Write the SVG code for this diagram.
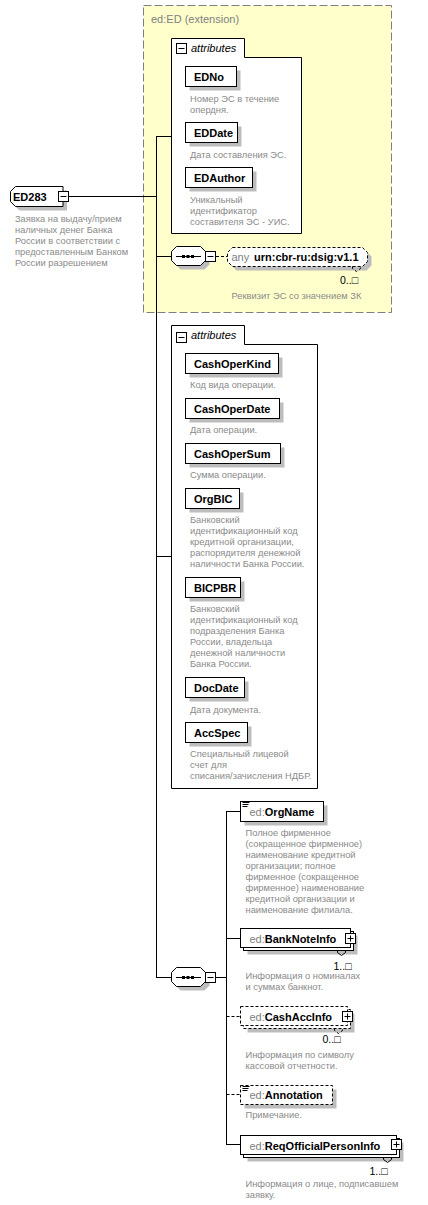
<svg xmlns="http://www.w3.org/2000/svg" width="428" height="1205" viewBox="0 0 428 1205">
  <style>
    text { font-family: "Liberation Sans", Arial, "DejaVu Sans", sans-serif; }
    .name { font-size: 11px; font-weight: bold; fill: #000; }
    .pfx { font-weight: normal; fill: #808080; }
    .desc { font-size: 9.3px; fill: #8a8a8a; }
    .occ { font-size: 10.5px; fill: #000; }
    .box { fill: #fff; stroke: #000; stroke-width: 1; }
    .dbox { fill: #fff; stroke: #000; stroke-width: 1; stroke-dasharray: 3 2; }
    .shadow { fill: #bdbdbd; stroke: none; }
    .ln { stroke: #000; stroke-width: 1; fill: none; }
    .dln { stroke: #000; stroke-width: 1; fill: none; stroke-dasharray: 3 2; }
    .grp { font-size: 11px; font-style: italic; fill: #000; }
  </style>
  <defs>
    <g id="minus">
      <rect x="0.5" y="0.5" width="10" height="10" fill="#fff" stroke="#000"/>
      <line x1="2.5" y1="5.5" x2="8.5" y2="5.5" stroke="#000"/>
    </g>
    <g id="plus">
      <rect x="0.5" y="0.5" width="10" height="10" fill="#fff" stroke="#000"/>
      <line x1="2.5" y1="5.5" x2="8.5" y2="5.5" stroke="#000"/>
      <line x1="5.5" y1="2.5" x2="5.5" y2="8.5" stroke="#000"/>
    </g>
    <g id="simple">
      <line x1="1.5" y1="1.5" x2="8.5" y2="1.5" stroke="#000"/>
      <line x1="1.5" y1="3.5" x2="7.5" y2="3.5" stroke="#000"/>
      <line x1="1.5" y1="5.5" x2="6.5" y2="5.5" stroke="#000"/>
    </g>
    <g id="seq">
      <path d="M9.5,4.5 H33.5 L38.5,9.5 V18.5 L33.5,23.5 H9.5 L4.5,18.5 V9.5 Z" class="shadow"/>
      <path d="M5.5,0.5 H29.5 L34.5,5.5 V14.5 L29.5,19.5 H5.5 L0.5,14.5 V5.5 Z" class="box"/>
      <line x1="5" y1="10.5" x2="30" y2="10.5" stroke="#000"/>
      <rect x="11" y="9" width="3" height="3" fill="#000"/>
      <rect x="15.5" y="9" width="3" height="3" fill="#000"/>
      <rect x="20" y="9" width="3" height="3" fill="#000"/>
    </g>
  </defs>

  <!-- extension of ed:ED -->
  <g id="ext">
    <rect x="143.5" y="5.5" width="248" height="307" fill="#ffffcc" stroke="#808080" stroke-dasharray="8 3"/>
    <text x="151" y="23" font-size="11" fill="#808080">ed:ED (extension)</text>
  </g>

  <!-- connectors -->
  <g id="connectors">
    <line class="ln" x1="68.5" y1="196.5" x2="156.5" y2="196.5"/>
    <line class="ln" x1="156.5" y1="136" x2="156.5" y2="978"/>
    <line class="ln" x1="156.5" y1="136.5" x2="171.5" y2="136.5"/>
    <line class="ln" x1="156.5" y1="256.5" x2="171.5" y2="256.5"/>
    <line class="ln" x1="156.5" y1="556.5" x2="171.5" y2="556.5"/>
    <line class="ln" x1="156.5" y1="977.5" x2="171.5" y2="977.5"/>
    <line class="dln" x1="216" y1="256.5" x2="228" y2="256.5"/>
    <line class="ln" x1="216" y1="977.5" x2="226.5" y2="977.5"/>
    <line class="ln" x1="226.5" y1="811" x2="226.5" y2="1145"/>
    <line class="ln" x1="226.5" y1="811.5" x2="240.5" y2="811.5"/>
    <line class="ln" x1="226.5" y1="938.5" x2="240.5" y2="938.5"/>
    <line class="dln" x1="226.5" y1="1016.5" x2="240.5" y2="1016.5"/>
    <line class="dln" x1="226.5" y1="1094.5" x2="240.5" y2="1094.5"/>
    <line class="ln" x1="226.5" y1="1144.5" x2="240.5" y2="1144.5"/>
  </g>

  <!-- root element -->
  <g id="ED283">
    <path d="M19.5,190.5 H67 V210.5 H19.5 L14.5,205.5 V195.5 Z" class="shadow"/>
    <path d="M15.5,186.5 H63 V206.5 H15.5 L10.5,201.5 V191.5 Z" class="box"/>
    <text class="name" x="13" y="200.5">ED283</text>
    <use href="#minus" x="58" y="191"/>
    <text class="desc" x="15" y="221.7">Заявка на выдачу/прием</text>
    <text class="desc" x="15" y="232.7">наличных денег Банка</text>
    <text class="desc" x="15" y="243.7">России в соответствии с</text>
    <text class="desc" x="15" y="254.7">предоставленным Банком</text>
    <text class="desc" x="15" y="265.7">России разрешением</text>
  </g>

  <!-- inherited attributes -->
  <g id="attributes1">
    <path d="M171.5,38.5 H244.5 V57.5 H301.5 V233.5 H171.5 Z" class="box"/>
    <use href="#minus" x="176" y="43"/>
    <text class="grp" x="191" y="52">attributes</text>
  </g>
  <g id="EDNo">
    <rect class="shadow" x="189.5" y="70.5" width="51" height="20"/>
    <rect class="box" x="185.5" y="66.5" width="51" height="20"/>
    <text class="name" x="194" y="80.5">EDNo</text>
    <text class="desc" x="190" y="101.7">Номер ЭС в течение</text>
    <text class="desc" x="190" y="112.7">опердня.</text>
  </g>
  <g id="EDDate">
    <rect class="shadow" x="189.5" y="126.5" width="52" height="20"/>
    <rect class="box" x="185.5" y="122.5" width="52" height="20"/>
    <text class="name" x="194" y="136.5">EDDate</text>
    <text class="desc" x="190" y="157.5">Дата составления ЭС.</text>
  </g>
  <g id="EDAuthor">
    <rect class="shadow" x="189.5" y="171.5" width="67" height="20"/>
    <rect class="box" x="185.5" y="167.5" width="67" height="20"/>
    <text class="name" x="194" y="181.5">EDAuthor</text>
    <text class="desc" x="190" y="202.7">Уникальный</text>
    <text class="desc" x="190" y="213.7">идентификатор</text>
    <text class="desc" x="190" y="224.7">составителя ЭС - УИС.</text>
  </g>

  <!-- inherited sequence with signature -->
  <g id="sequence1">
    <use href="#seq" x="171" y="246"/>
    <use href="#minus" x="205" y="251"/>
  </g>
  <g id="any">
    <path d="M236.5,251.5 H366.5 L371.5,256.5 V265.5 L366.5,270.5 H236.5 L231.5,265.5 V256.5 Z" class="shadow"/>
    <path d="M232.5,247.5 H362.5 L367.5,252.5 V261.5 L362.5,266.5 H232.5 L227.5,261.5 V252.5 Z" class="dbox"/>
    <path d="M352.5,266.5 V268.5 L356.5,271.5 L360.5,268.5 V266.5" class="dln" fill="#fff"/>
    <text x="231.5" y="261" font-size="11" fill="#808080">any</text>
    <text class="name" x="254" y="261">urn:cbr-ru:dsig:v1.1</text>
    <text class="occ" x="340" y="284">0..□</text>
    <text class="desc" x="231.5" y="298.5">Реквизит ЭС со значением ЗК</text>
  </g>

  <!-- own attributes -->
  <g id="attributes2">
    <path d="M171.5,325.5 H244.5 V344.5 H317.5 V788.5 H171.5 Z" class="box"/>
    <use href="#minus" x="176" y="332"/>
    <text class="grp" x="191" y="339">attributes</text>
  </g>
  <g id="CashOperKind">
    <rect class="shadow" x="189.5" y="357.5" width="93" height="20"/>
    <rect class="box" x="185.5" y="353.5" width="93" height="20"/>
    <text class="name" x="194" y="367.5">CashOperKind</text>
    <text class="desc" x="190" y="388.3">Код вида операции.</text>
  </g>
  <g id="CashOperDate">
    <rect class="shadow" x="189.5" y="402.5" width="94" height="20"/>
    <rect class="box" x="185.5" y="398.5" width="94" height="20"/>
    <text class="name" x="194" y="412.5">CashOperDate</text>
    <text class="desc" x="190" y="433.3">Дата операции.</text>
  </g>
  <g id="CashOperSum">
    <rect class="shadow" x="189.5" y="447.5" width="95" height="20"/>
    <rect class="box" x="185.5" y="443.5" width="95" height="20"/>
    <text class="name" x="194" y="457.5">CashOperSum</text>
    <text class="desc" x="190" y="478.3">Сумма операции.</text>
  </g>
  <g id="OrgBIC">
    <rect class="shadow" x="189.5" y="492.5" width="54" height="20"/>
    <rect class="box" x="185.5" y="488.5" width="54" height="20"/>
    <text class="name" x="194" y="502.5">OrgBIC</text>
    <text class="desc" x="190" y="523.3">Банковский</text>
    <text class="desc" x="190" y="534.3">идентификационный код</text>
    <text class="desc" x="190" y="545.3">кредитной организации,</text>
    <text class="desc" x="190" y="556.3">распорядителя денежной</text>
    <text class="desc" x="190" y="567.3">наличности Банка России.</text>
  </g>
  <g id="BICPBR">
    <rect class="shadow" x="189.5" y="581.5" width="55" height="20"/>
    <rect class="box" x="185.5" y="577.5" width="55" height="20"/>
    <text class="name" x="194" y="591.5">BICPBR</text>
    <text class="desc" x="190" y="612.3">Банковский</text>
    <text class="desc" x="190" y="623.3">идентификационный код</text>
    <text class="desc" x="190" y="634.3">подразделения Банка</text>
    <text class="desc" x="190" y="645.3">России, владельца</text>
    <text class="desc" x="190" y="656.3">денежной наличности</text>
    <text class="desc" x="190" y="667.3">Банка России.</text>
  </g>
  <g id="DocDate">
    <rect class="shadow" x="189.5" y="681.5" width="59" height="20"/>
    <rect class="box" x="185.5" y="677.5" width="59" height="20"/>
    <text class="name" x="194" y="691.5">DocDate</text>
    <text class="desc" x="190" y="712.7">Дата документа.</text>
  </g>
  <g id="AccSpec">
    <rect class="shadow" x="189.5" y="726.5" width="62" height="20"/>
    <rect class="box" x="185.5" y="722.5" width="62" height="20"/>
    <text class="name" x="194" y="736.5">AccSpec</text>
    <text class="desc" x="190" y="756.7">Специальный лицевой</text>
    <text class="desc" x="190" y="767.7">счет для</text>
    <text class="desc" x="190" y="778.7">списания/зачисления НДБР.</text>
  </g>

  <!-- content sequence -->
  <g id="sequence2">
    <use href="#seq" x="171" y="967"/>
    <use href="#minus" x="205" y="972"/>
  </g>
  <g id="OrgName">
    <rect class="shadow" x="244.5" y="805.5" width="83" height="20"/>
    <rect class="box" x="240.5" y="801.5" width="83" height="20"/>
    <use href="#simple" x="241" y="801"/>
    <text class="name" x="249.5" y="815.5"><tspan class="pfx">ed:</tspan>OrgName</text>
    <text class="desc" x="245.5" y="836.3">Полное фирменное</text>
    <text class="desc" x="245.5" y="847.3">(сокращенное фирменное)</text>
    <text class="desc" x="245.5" y="858.3">наименование кредитной</text>
    <text class="desc" x="245.5" y="869.3">организации; полное</text>
    <text class="desc" x="245.5" y="880.3">фирменное (сокращенное</text>
    <text class="desc" x="245.5" y="891.3">фирменное) наименование</text>
    <text class="desc" x="245.5" y="902.3">кредитной организации и</text>
    <text class="desc" x="245.5" y="913.3">наименование филиала.</text>
  </g>
  <g id="BankNoteInfo">
    <rect class="shadow" x="247.5" y="935.5" width="110" height="19"/>
    <rect class="box" x="243.5" y="931.5" width="110" height="19"/>
    <rect class="box" x="240.5" y="928.5" width="110" height="19"/>
    <path d="M337.5,950.5 V952.5 L341.5,955.5 L345.5,952.5 V950.5" class="ln" fill="#fff"/>
    <use href="#plus" x="345" y="933"/>
    <text class="name" x="249.5" y="942.5"><tspan class="pfx">ed:</tspan>BankNoteInfo</text>
    <text class="occ" x="333.5" y="969.5">1..□</text>
    <text class="desc" x="245.5" y="978.5">Информация о номиналах</text>
    <text class="desc" x="245.5" y="989.5">и суммах банкнот.</text>
  </g>
  <g id="CashAccInfo">
    <rect class="shadow" x="247.5" y="1013.5" width="107" height="19"/>
    <rect class="dbox" x="243.5" y="1009.5" width="107" height="19"/>
    <rect class="dbox" x="240.5" y="1006.5" width="107" height="19"/>
    <path d="M334.5,1028.5 V1030.5 L338.5,1033.5 L342.5,1030.5 V1028.5" class="dln" fill="#fff"/>
    <use href="#plus" x="342" y="1011"/>
    <text class="name" x="249.5" y="1020.5"><tspan class="pfx">ed:</tspan>CashAccInfo</text>
    <text class="occ" x="322.5" y="1043">0..□</text>
    <text class="desc" x="245.5" y="1058.3">Информация по символу</text>
    <text class="desc" x="245.5" y="1069.3">кассовой отчетности.</text>
  </g>
  <g id="Annotation">
    <rect class="shadow" x="244.5" y="1089.5" width="92" height="19"/>
    <rect class="dbox" x="240.5" y="1085.5" width="92" height="19"/>
    <use href="#simple" x="241" y="1085"/>
    <text class="name" x="249.5" y="1098.5"><tspan class="pfx">ed:</tspan>Annotation</text>
    <text class="desc" x="245.5" y="1118.3">Примечание.</text>
  </g>
  <g id="ReqOfficialPersonInfo">
    <rect class="shadow" x="247.5" y="1142.5" width="156" height="19"/>
    <rect class="box" x="243.5" y="1138.5" width="156" height="19"/>
    <rect class="box" x="240.5" y="1135.5" width="156" height="19"/>
    <path d="M383.5,1157.5 V1159.5 L387.5,1162.5 L391.5,1159.5 V1157.5" class="ln" fill="#fff"/>
    <use href="#plus" x="391" y="1139"/>
    <text class="name" x="249.5" y="1149.5"><tspan class="pfx">ed:</tspan>ReqOfficialPersonInfo</text>
    <text class="occ" x="369.5" y="1174.5">1..□</text>
    <text class="desc" x="245.5" y="1186.7">Информация о лице, подписавшем</text>
    <text class="desc" x="245.5" y="1197.7">заявку.</text>
  </g>
</svg>
